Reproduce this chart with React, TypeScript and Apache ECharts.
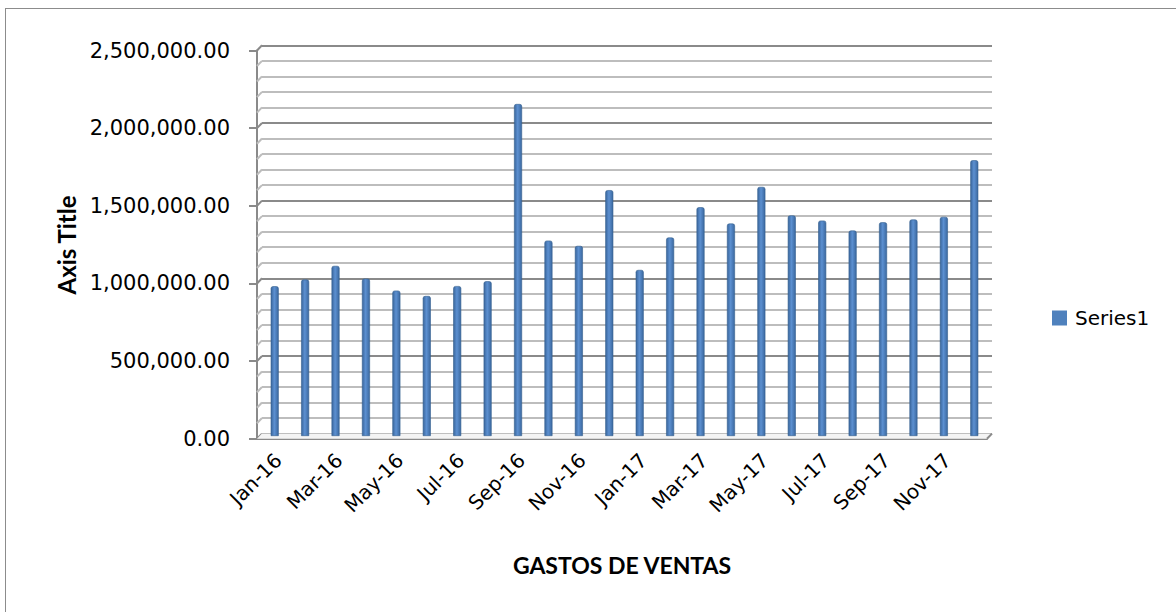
import React, { useEffect, useRef } from "react";
import * as echarts from "echarts";

const categories = [
  "Jan-16", "Feb-16", "Mar-16", "Apr-16", "May-16", "Jun-16",
  "Jul-16", "Aug-16", "Sep-16", "Oct-16", "Nov-16", "Dec-16",
  "Jan-17", "Feb-17", "Mar-17", "Apr-17", "May-17", "Jun-17",
  "Jul-17", "Aug-17", "Sep-17", "Oct-17", "Nov-17", "Dec-17",
];

const series1 = [
  965000, 1008000, 1096000, 1014000, 937000, 902000,
  966000, 997000, 2139000, 1259000, 1225000, 1584000,
  1070000, 1279000, 1474000, 1369000, 1605000, 1421000,
  1388000, 1324000, 1377000, 1395000, 1412000, 1777000,
];

const gridValues = [
  0, 100000, 200000, 300000, 400000, 500000, 600000, 700000, 800000, 900000,
  1000000, 1100000, 1200000, 1300000, 1400000, 1500000, 1600000, 1700000,
  1800000, 1900000, 2000000, 2100000, 2200000, 2300000, 2400000, 2500000,
];

const yMax = 2500000;
const yInterval = 500000;

const FONT = "'DejaVu Sans', sans-serif";
const BOLD_FONT = "Lato, 'DejaVu Sans', sans-serif";
const MAJOR = "#8a8a8a";
const MINOR = "#bdbdbd";
const DX = 5;
const DY = 5.2;

const fmt = (v: number) =>
  v.toLocaleString("en-US", { minimumFractionDigits: 2, maximumFractionDigits: 2 });

export default function App() {
  const ref = useRef<HTMLDivElement>(null);

  useEffect(() => {
    if (!ref.current) return;
    const chart = echarts.init(ref.current, undefined, { renderer: "svg" });

    const option: any = {
      animation: false,
      backgroundColor: "#ffffff",
      grid: [
        // front (axes)
        { left: 257, right: 189, top: 50.5, bottom: 173.3, containLabel: false },
        // back wall (gridlines)
        { left: 262, right: 184, top: 45.3, bottom: 178.4, containLabel: false },
        // bars (mid depth)
        { left: 259.5, right: 186.5, top: 48, bottom: 176, containLabel: false },
        // category labels
        { left: 263, right: 183, top: 50.5, bottom: 173.3, containLabel: false },
      ],
      xAxis: [
        {
          type: "category",
          gridIndex: 0,
          data: categories,
          axisLine: { show: true, lineStyle: { color: MAJOR, width: 2 } },
          axisTick: { show: false },
          axisLabel: { show: false },
          splitLine: { show: false },
        },
        { type: "category", gridIndex: 1, data: categories, show: false },
        { type: "category", gridIndex: 2, data: categories, show: false },
        {
          type: "category",
          gridIndex: 3,
          data: categories,
          axisLine: { show: false },
          axisTick: { show: false },
          axisLabel: {
            interval: 1,
            rotate: 45,
            margin: 18,
            color: "#000",
            fontFamily: FONT,
            fontSize: 20,
          },
          splitLine: { show: false },
        },
      ],
      yAxis: [
        {
          type: "value",
          gridIndex: 0,
          min: 0,
          max: yMax,
          interval: yInterval,
          axisLine: { show: true, lineStyle: { color: MAJOR, width: 2 } },
          axisTick: { show: true, length: 8, lineStyle: { color: MAJOR, width: 2 } },
          axisLabel: {
            margin: 27,
            color: "#000",
            fontFamily: FONT,
            fontSize: 21,
            padding: [8, 0, 0, 0],
            formatter: (v: number) => fmt(v),
          },
          splitLine: { show: false },
        },
        {
          type: "value",
          gridIndex: 1,
          min: 0,
          max: yMax,
          interval: yInterval,
          axisLine: { show: false },
          axisTick: { show: false },
          axisLabel: { show: false },
          minorTick: { show: false, splitNumber: 5 },
          splitLine: { show: true, lineStyle: { color: MAJOR, width: 2 } },
          minorSplitLine: { show: true, lineStyle: { color: MINOR, width: 2 } },
        },
        { type: "value", gridIndex: 2, min: 0, max: yMax, interval: yInterval, show: false },
        { type: "value", gridIndex: 3, min: 0, max: yMax, interval: yInterval, show: false },
      ],
      legend: {
        show: true,
        left: 1047,
        top: 303,
        itemWidth: 15,
        itemHeight: 15,
        icon: "rect",
        itemStyle: { color: "#4f81bd", borderWidth: 0 },
        textStyle: {
          fontFamily: FONT,
          fontSize: 20,
          color: "#000",
          padding: [0, 0, 0, 3],
        },
        data: ["Series1"],
      },
      graphic: [
        {
          type: "line",
          shape: { x1: 5.5, y1: 8, x2: 5.5, y2: 612 },
          style: { stroke: "#8c8c8c", lineWidth: 1 },
          silent: true,
        },
        {
          type: "line",
          shape: { x1: 5, y1: 8.5, x2: 1176, y2: 8.5 },
          style: { stroke: "#8c8c8c", lineWidth: 1 },
          silent: true,
        },
        {
          type: "text",
          x: 66,
          y: 245,
          rotation: Math.PI / 2,
          style: {
            text: "Axis Title",
            fontFamily: BOLD_FONT,
            fontWeight: "bold",
            fontSize: 24,
            fill: "#000",
            align: "center",
            verticalAlign: "middle",
          },
        },
        {
          type: "text",
          x: 622,
          y: 565,
          style: {
            text: "GASTOS DE VENTAS",
            fontFamily: BOLD_FONT,
            fontWeight: "bold",
            fontSize: 23,
            fill: "#000",
            align: "center",
            verticalAlign: "middle",
          },
        },
      ],
      series: [
        {
          name: "wallSlants",
          type: "custom",
          xAxisIndex: 1,
          yAxisIndex: 1,
          silent: true,
          z: 1,
          data: gridValues.map((v) => [0, v]),
          renderItem: (params: any, api: any) => {
            const v = api.value(1);
            const p = api.coord([0, v]);
            const band = api.size([1, 0])[0];
            const left = p[0] - band / 2;
            const isMajor = v % yInterval === 0;
            return {
              type: "line",
              shape: { x1: left, y1: p[1], x2: left - DX, y2: p[1] + DY },
              style: { stroke: isMajor ? MAJOR : MINOR, lineWidth: 2 },
            };
          },
        },
        {
          name: "floorSlant",
          type: "custom",
          xAxisIndex: 1,
          yAxisIndex: 1,
          silent: true,
          z: 1,
          data: [[categories.length - 1, 0]],
          renderItem: (params: any, api: any) => {
            const p = api.coord([api.value(0), 0]);
            const band = api.size([1, 0])[0];
            const right = p[0] + band / 2;
            return {
              type: "group",
              children: [
                {
                  type: "polygon",
                  shape: {
                    points: [
                      [right, p[1]],
                      [right - DX, p[1] + DY],
                      [right - DX - band * categories.length, p[1] + DY],
                      [right - band * categories.length, p[1]],
                    ],
                  },
                  style: { fill: "#f4f4f4" },
                },
                {
                  type: "line",
                  shape: { x1: right, y1: p[1], x2: right - DX, y2: p[1] + DY },
                  style: { stroke: MAJOR, lineWidth: 2 },
                },
              ],
            };
          },
        },
        {
          name: "Series1",
          type: "bar",
          xAxisIndex: 2,
          yAxisIndex: 2,
          data: series1,
          barWidth: 8,
          z: 3,
          itemStyle: {
            color: new echarts.graphic.LinearGradient(0, 0, 1, 0, [
              { offset: 0, color: "#3a669c" },
              { offset: 0.45, color: "#5c90d1" },
              { offset: 1, color: "#3b689f" },
            ]),
            borderColor: "#34608f",
            borderWidth: 0.6,
            borderRadius: [2, 2, 0, 0],
          },
        },
      ],
    };

    chart.setOption(option);
    return () => chart.dispose();
  }, []);

  return (
    <div
      ref={ref}
      style={{ position: "fixed", left: 0, top: 0, width: 1176, height: 612 }}
    />
  );
}
